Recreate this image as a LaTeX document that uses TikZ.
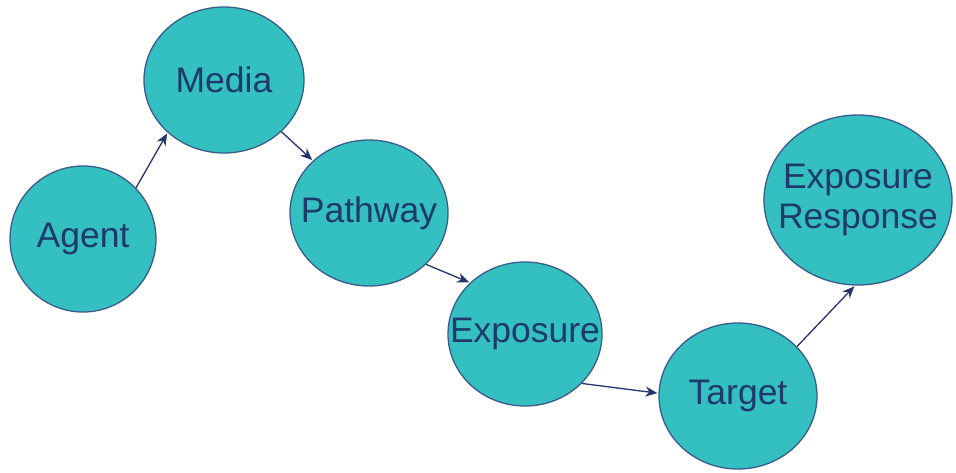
\documentclass[tikz,border=0pt]{standalone}
\usepackage{fontspec}
\setmainfont{Liberation Sans}
\usetikzlibrary{shapes.geometric,arrows.meta}
\definecolor{nodeteal}{HTML}{34BFC1}
\definecolor{rimblue}{HTML}{3A5C8C}
\definecolor{inkblue}{HTML}{1E3A6C}
\definecolor{arrowblue}{HTML}{24356C}

\begin{document}
\begin{tikzpicture}[x=1pt,y=-1pt,-{Stealth[length=12pt,width=10pt]},shorten >=1pt,thick,main node/.style={ellipse,draw=rimblue,line width=1.3pt,fill=nodeteal,text=inkblue,inner xsep=-40pt,inner ysep=0pt,align=center,font=\fontsize{35.5}{40}\selectfont}]

            \useasboundingbox (0,0) rectangle (956,472);

            \node[main node, minimum width=146pt, minimum height=146pt] (1) at (83,239) {Agent};
            \node[main node, minimum width=160pt, minimum height=146pt] (2) at (224,80) {Media};
            \node[main node, minimum width=158pt, minimum height=146pt] (3) at (369,213) {Pathway};
            \node[main node, minimum width=154pt, minimum height=144pt] (4) at (525,334) {Exposure};
            \node[main node, minimum width=158pt, minimum height=146pt] (5) at (738,396) {Target};
            \node[main node, minimum width=188pt, minimum height=170pt] (6) at (858,200) {Exposure\\Response};

            \path[arrowblue, line width=1.3pt]
                (1.44) edge (2.223)
                (2.318) edge (3.137)
                (3.318) edge (4.137)
                (4.319) edge (5.178)
                (5.40) edge (6.268)
                ;
        \end{tikzpicture}
\end{document}
